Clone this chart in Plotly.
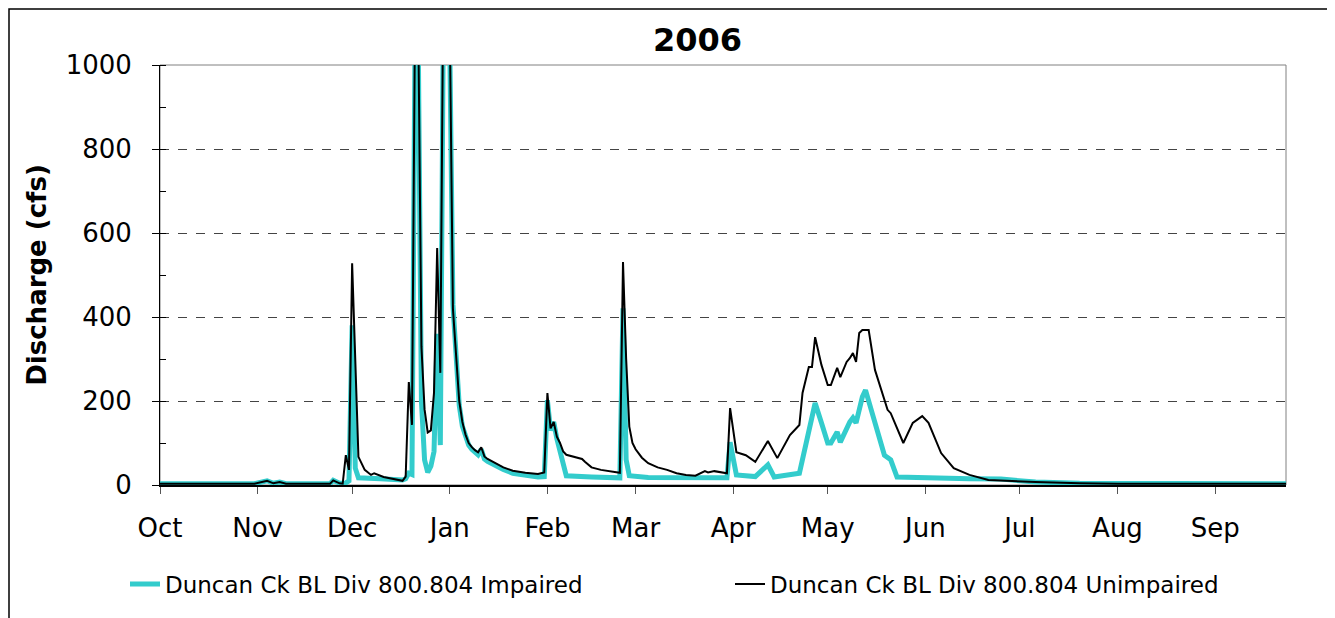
import plotly.graph_objects as go

# ---- data (water year 2006) ----
unimp_dates = [
    "2005-10-01", "2005-10-25", "2005-10-31", "2005-11-04", "2005-11-06", "2005-11-08", "2005-11-10",
    "2005-11-24", "2005-11-25", "2005-11-27", "2005-11-28", "2005-11-29", "2005-11-30",
    "2005-12-01", "2005-12-03", "2005-12-05", "2005-12-07", "2005-12-08", "2005-12-11", "2005-12-17",
    "2005-12-18", "2005-12-19", "2005-12-20", "2005-12-21", "2005-12-22", "2005-12-23", "2005-12-24",
    "2005-12-25", "2005-12-26", "2005-12-27", "2005-12-28", "2005-12-29", "2005-12-30", "2005-12-31",
    "2006-01-01", "2006-01-02", "2006-01-03", "2006-01-04", "2006-01-05", "2006-01-06", "2006-01-07",
    "2006-01-08", "2006-01-09", "2006-01-10", "2006-01-11", "2006-01-12", "2006-01-13", "2006-01-14",
    "2006-01-16", "2006-01-18", "2006-01-21", "2006-01-25", "2006-01-29", "2006-01-31",
    "2006-02-01", "2006-02-02", "2006-02-03", "2006-02-04", "2006-02-05", "2006-02-06", "2006-02-07",
    "2006-02-10", "2006-02-12", "2006-02-13", "2006-02-15", "2006-02-18", "2006-02-21", "2006-02-24",
    "2006-02-25", "2006-02-26", "2006-02-27", "2006-02-28", "2006-03-01", "2006-03-03", "2006-03-05",
    "2006-03-08", "2006-03-11", "2006-03-14", "2006-03-17", "2006-03-20", "2006-03-23", "2006-03-24",
    "2006-03-26", "2006-03-28", "2006-03-30", "2006-03-31", "2006-04-02", "2006-04-05", "2006-04-08",
    "2006-04-12", "2006-04-15", "2006-04-19", "2006-04-22", "2006-04-23", "2006-04-25", "2006-04-26",
    "2006-04-27", "2006-04-29", "2006-05-01", "2006-05-02", "2006-05-04", "2006-05-05", "2006-05-07",
    "2006-05-08", "2006-05-09", "2006-05-10", "2006-05-11", "2006-05-12", "2006-05-14", "2006-05-16",
    "2006-05-18", "2006-05-20", "2006-05-21", "2006-05-25", "2006-05-28", "2006-05-31", "2006-06-02",
    "2006-06-06", "2006-06-10", "2006-06-15", "2006-06-21", "2006-07-01", "2006-07-06", "2006-07-20",
    "2006-08-01", "2006-09-30",
]
unimp_cfs = [
    3, 4, 3, 10, 4, 7, 3,
    3, 11, 4, 3, 71, 36,
    528, 67, 36, 24, 28, 19, 10,
    20, 245, 143, 1150, 1100, 330, 180,
    125, 130, 220, 564, 267, 1250, 1300,
    1100, 420, 320, 200, 150, 120, 100,
    90, 83, 78, 90, 68, 62, 58,
    50, 42, 34, 29, 26, 30,
    219, 135, 150, 115, 100, 80, 72,
    67, 62, 55, 42, 36, 32, 29,
    531, 300, 139, 100, 85, 65, 52,
    42, 36, 28, 24, 22, 33, 30,
    33, 30, 28, 183, 78, 71, 55,
    105, 64, 119, 143, 219, 281, 281,
    352, 286, 238, 238, 279, 257, 293,
    302, 314, 293, 362, 369, 369, 274,
    226, 179, 171, 100, 148, 164, 148,
    76, 40, 24, 12, 8, 7, 4,
    3, 3,
]

imp_dates = [
    "2005-10-01", "2005-10-25", "2005-10-31", "2005-11-04", "2005-11-06", "2005-11-08", "2005-11-10",
    "2005-11-24", "2005-11-25", "2005-11-27", "2005-11-28", "2005-11-29", "2005-11-30",
    "2005-12-01", "2005-12-02", "2005-12-03", "2005-12-10", "2005-12-17", "2005-12-18", "2005-12-19",
    "2005-12-20", "2005-12-21", "2005-12-22", "2005-12-23", "2005-12-24", "2005-12-25", "2005-12-26",
    "2005-12-27", "2005-12-28", "2005-12-29", "2005-12-30", "2005-12-31", "2006-01-01", "2006-01-02",
    "2006-01-03", "2006-01-04", "2006-01-05", "2006-01-06", "2006-01-07", "2006-01-08", "2006-01-09",
    "2006-01-10", "2006-01-11", "2006-01-12", "2006-01-13", "2006-01-14", "2006-01-16", "2006-01-18",
    "2006-01-21", "2006-01-25", "2006-01-29", "2006-01-31", "2006-02-01", "2006-02-02", "2006-02-03",
    "2006-02-04", "2006-02-05", "2006-02-06", "2006-02-07", "2006-02-15", "2006-02-24", "2006-02-25",
    "2006-02-26", "2006-02-27", "2006-03-05", "2006-03-30", "2006-03-31", "2006-04-02", "2006-04-08",
    "2006-04-12", "2006-04-14", "2006-04-22", "2006-04-24", "2006-04-27", "2006-04-29", "2006-05-01",
    "2006-05-02", "2006-05-04", "2006-05-05", "2006-05-07", "2006-05-08", "2006-05-09", "2006-05-10",
    "2006-05-12", "2006-05-13", "2006-05-15", "2006-05-17", "2006-05-19", "2006-05-21", "2006-05-23",
    "2006-06-15", "2006-06-25", "2006-07-06", "2006-07-20", "2006-09-30",
]
imp_cfs = [
    3, 4, 3, 10, 4, 7, 3,
    3, 11, 4, 3, 5, 10,
    380, 40, 17, 15, 12, 15, 28,
    25, 1100, 1050, 200, 60, 30, 45,
    80, 360, 95, 1150, 1250, 1050, 430,
    310, 190, 140, 112, 95, 85, 78,
    72, 85, 62, 56, 52, 45, 37,
    28, 22, 19, 20, 202, 130, 150,
    110, 80, 40, 22, 19, 17, 421,
    60, 22, 18, 17, 102, 24, 20,
    48, 19, 28, 90, 195, 148, 100,
    100, 126, 102, 138, 150, 160, 148,
    210, 226, 174, 124, 71, 60, 19,
    15, 14, 7, 4, 3,
]

month_ticks = ["2005-10-01", "2005-11-01", "2005-12-01", "2006-01-01", "2006-02-01", "2006-03-01",
               "2006-04-01", "2006-05-01", "2006-06-01", "2006-07-01", "2006-08-01", "2006-09-01"]
month_labels = ["Oct", "Nov", "Dec", "Jan", "Feb", "Mar", "Apr", "May", "Jun", "Jul", "Aug", "Sep"]
y_ticks = [0, 200, 400, 600, 800, 1000]

FONT = "DejaVu Sans, Arial, sans-serif"

fig = go.Figure()
fig.add_trace(go.Scatter(x=imp_dates, y=imp_cfs, mode="lines",
                         name="Duncan Ck BL Div 800.804 Impaired",
                         line=dict(color="#33CCCC", width=5)))
fig.add_trace(go.Scatter(x=unimp_dates, y=unimp_cfs, mode="lines",
                         name="Duncan Ck BL Div 800.804 Unimpaired",
                         line=dict(color="#000000", width=2)))

fig.update_layout(
    width=1327, height=610,
    margin=dict(l=152, r=49, t=57, b=133),
    paper_bgcolor="white", plot_bgcolor="white",
    font=dict(family=FONT, color="black"),
    showlegend=True,
    legend=dict(orientation="h", x=-0.031, xanchor="left", y=-0.236, yanchor="middle",
                font=dict(size=23, family=FONT), entrywidth=560, entrywidthmode="pixels",
                bgcolor="rgba(0,0,0,0)"),
    annotations=[dict(text="<b>2006</b>", x=0.477, y=1.06, xref="paper", yref="paper",
                      showarrow=False, font=dict(size=32, family=FONT), xanchor="center", yanchor="middle")],
    shapes=[
        dict(type="rect", xref="paper", yref="paper", x0=0, x1=1, y0=0, y1=1,
             line=dict(color="#808080", width=1), layer="below"),
        dict(type="rect", xref="paper", yref="paper", x0=-0.1341, x1=1.0382, y0=-0.35, y1=1.1333,
             line=dict(color="black", width=1.5), layer="above"),
    ],
)

fig.update_xaxes(
    type="date", range=["2005-10-01", "2006-09-23 12:00"],
    tickmode="array", tickvals=month_ticks, ticktext=month_labels,
    ticks="outside", ticklen=7, tickcolor="#555555", tickwidth=1,
    showline=True, linecolor="black", linewidth=2,
    showgrid=False, zeroline=False,
    tickfont=dict(size=26, family=FONT), ticklabelstandoff=12,
)
fig.update_yaxes(
    range=[0, 1000], tickmode="array", tickvals=y_ticks,
    ticks="outside", ticklen=7, tickcolor="black", tickwidth=1,
    minor=dict(dtick=100, ticks="inside", ticklen=6, tickcolor="black", showgrid=False),
    showline=True, linecolor="black", linewidth=1,
    showgrid=True, gridcolor="#444444", griddash="dash", gridwidth=1,
    zeroline=False,
    tickfont=dict(size=26, family=FONT), ticklabelstandoff=15,
    title=dict(text="<b>Discharge (cfs)</b>", font=dict(size=26, family=FONT), standoff=11),
)

fig.write_html("out.html")
